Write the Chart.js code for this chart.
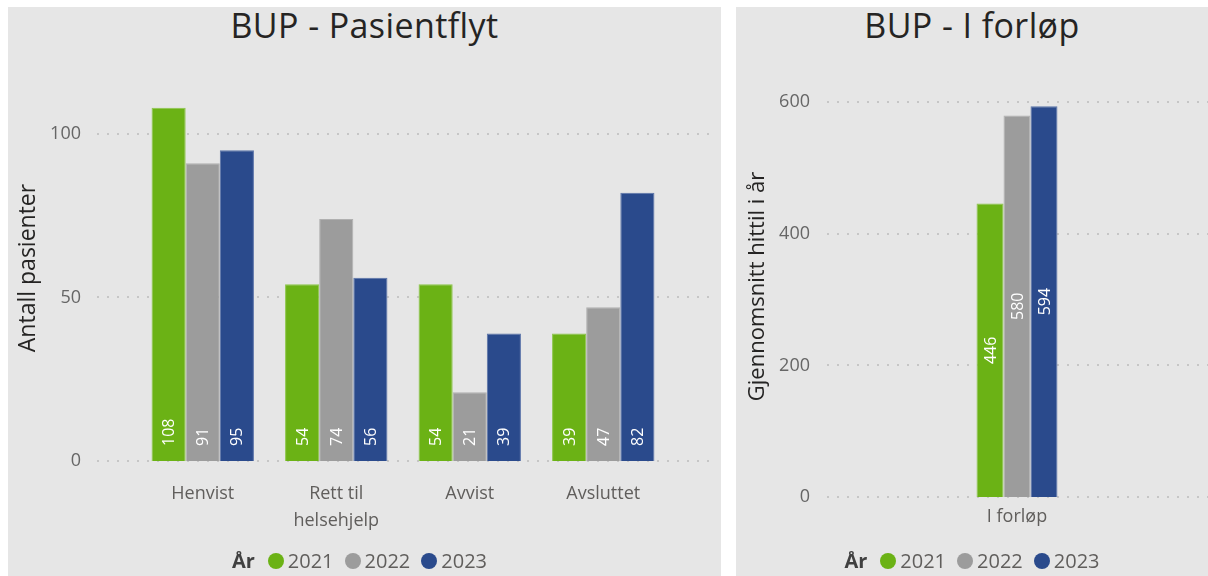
<!DOCTYPE html>
<html><head><meta charset="utf-8">
<script src="https://cdn.jsdelivr.net/npm/chart.js@4/dist/chart.umd.min.js"></script>
<style>
body{margin:0;background:#fff;width:1208px;height:576px;overflow:hidden;position:relative;font-family:'Open Sans',sans-serif}
.panel{position:absolute;top:7px;height:569px;background:#e6e6e6}
#p1{left:8px;width:713px}
#p2{left:736px;width:472px}
canvas{position:absolute;left:0;top:0}
.title{position:absolute;left:0;right:0;text-align:center;font-size:34px;line-height:40px;letter-spacing:0.4px;color:#252423;top:-2px;white-space:nowrap}
.legend{position:absolute;left:0;right:0;top:544px;height:20px;display:flex;justify-content:center;align-items:center;font-size:20px;line-height:20px;color:#605e5c;white-space:nowrap}
#l1{right:10px}
.legend b{color:#404040;margin-right:13px}
.legend .dot{width:16px;height:16px;border-radius:50%;margin-right:4px}
.legend .item{display:flex;align-items:center;margin-right:11px}
.legend .item:last-child{margin-right:0}
</style>
</head><body>
<div class="panel" id="p1">
  <div class="title" id="t1"></div>
  <canvas id="c1" width="713" height="569"></canvas>
  <div class="legend" id="l1"></div>
</div>
<div class="panel" id="p2">
  <div class="title" id="t2"></div>
  <canvas id="c2" width="472" height="569"></canvas>
  <div class="legend" id="l2"></div>
</div>
<script>
// ---- data ----
const flowTitle = 'BUP - Pasientflyt';
const flowCategories = ['Henvist', ['Rett til', 'helsehjelp'], 'Avvist', 'Avsluttet'];
const years = ['2021', '2022', '2023'];
const flow2021 = [108, 54, 54, 39];
const flow2022 = [91, 74, 21, 47];
const flow2023 = [95, 56, 39, 82];
const flowTicks = [0, 50, 100];
const flowAxisTitle = 'Antall pasienter';

const ongoingTitle = 'BUP - I forløp';
const ongoingCategories = ['I forløp'];
const ongoing2021 = [446];
const ongoing2022 = [580];
const ongoing2023 = [594];
const ongoingTicks = [0, 200, 400, 600];
const ongoingAxisTitle = 'Gjennomsnitt hittil i år';

const legendTitle = 'År';
const colors = ['#6bb215', '#9c9c9c', '#2a4a8c'];
const borders = ['#8cc64a', '#b0b0b0', '#5a73a8'];

// ---- plugins ----
const dotGrid = {
  id: 'dotGrid',
  beforeDatasetsDraw(chart, args, opts) {
    const y = chart.scales.y, ctx = chart.ctx;
    ctx.save();
    ctx.strokeStyle = '#c6c6c6';
    ctx.lineWidth = 2;
    ctx.setLineDash([2, 8]);
    y.ticks.forEach(t => {
      const py = Math.round(y.getPixelForValue(t.value));
      ctx.beginPath();
      ctx.moveTo(opts.x1, py);
      ctx.lineTo(opts.x2, py);
      ctx.stroke();
    });
    ctx.restore();
  }
};
const barLabels = {
  id: 'barLabels',
  afterDatasetsDraw(chart, args, opts) {
    const ctx = chart.ctx;
    ctx.save();
    ctx.fillStyle = '#ffffff';
    ctx.font = '16px "Open Sans"';
    ctx.textBaseline = 'middle';
    chart.data.datasets.forEach((ds, di) => {
      chart.getDatasetMeta(di).data.forEach((bar, i) => {
        const txt = String(ds.data[i]);
        ctx.save();
        if (opts.mode === 'base') {
          ctx.translate(bar.x, bar.base - 15);
          ctx.rotate(-Math.PI / 2);
          ctx.textAlign = 'left';
        } else {
          ctx.translate(bar.x, (bar.y + bar.base) / 2);
          ctx.rotate(-Math.PI / 2);
          ctx.textAlign = 'center';
        }
        ctx.fillText(txt, 0, 1);
        ctx.restore();
      });
    });
    ctx.restore();
  }
};

function makeDatasets(series) {
  return series.map((d, i) => ({
    label: years[i], data: d, backgroundColor: colors[i],
    borderColor: borders[i], borderWidth: 1, borderSkipped: 'bottom'
  }));
}

function makeChart(id, cfg) {
  return new Chart(document.getElementById(id), {
    type: 'bar',
    data: { labels: cfg.labels, datasets: makeDatasets(cfg.series) },
    plugins: [dotGrid, barLabels],
    options: {
      responsive: false, animation: false,
      layout: { padding: cfg.padding },
      datasets: { bar: { categoryPercentage: cfg.catPct, barPercentage: 1 } },
      plugins: {
        legend: { display: false }, tooltip: { enabled: false },
        dotGrid: { x1: cfg.gx1, x2: cfg.gx2 },
        barLabels: { mode: cfg.labelMode }
      },
      scales: {
        x: {
          grid: { display: false, drawTicks: false }, border: { display: false },
          ticks: { color: '#605e5c', font: { family: 'Open Sans', size: 18, lineHeight: '27px' },
                   padding: cfg.xPad, autoSkip: false, maxRotation: 0, minRotation: 0 },
          afterFit: s => { s.height = cfg.xH; }
        },
        y: {
          min: 0, max: cfg.max,
          grid: { display: false, drawTicks: false }, border: { display: false },
          ticks: { color: '#666666', font: { family: 'Open Sans', size: 18 }, padding: cfg.yPad },
          afterBuildTicks: s => { s.ticks = cfg.ticks.map(v => ({ value: v })); },
          afterFit: s => { s.width = cfg.yW; },
          title: { display: true, text: cfg.axisTitle, color: '#252423',
                   font: { family: 'Open Sans', size: cfg.titleSize }, padding: { top: cfg.titlePad, bottom: 0 } }
        }
      }
    }
  });
}

function makeLegend(id) {
  const el = document.getElementById(id);
  const b = document.createElement('b'); b.textContent = legendTitle; el.appendChild(b);
  years.forEach((y, i) => {
    const it = document.createElement('span'); it.className = 'item';
    const d = document.createElement('span'); d.className = 'dot'; d.style.background = colors[i];
    const t = document.createElement('span'); t.textContent = y;
    it.appendChild(d); it.appendChild(t); el.appendChild(it);
  });
}

document.getElementById('t1').textContent = flowTitle;
document.getElementById('t2').textContent = ongoingTitle;
makeLegend('l1'); makeLegend('l2');

makeChart('c1', {
  labels: flowCategories, series: [flow2021, flow2022, flow2023],
  padding: { top: 68, right: 51, bottom: 40, left: 0 },
  catPct: 0.767, gx1: 89, gx2: 703, labelMode: 'base',
  xPad: 19, xH: 75, max: 118, ticks: flowTicks, yPad: 55, yW: 128,
  axisTitle: flowAxisTitle, titleSize: 23, titlePad: 7
});
makeChart('c2', {
  labels: ongoingCategories, series: [ongoing2021, ongoing2022, ongoing2023],
  padding: { top: 69, right: 1, bottom: 39, left: 0 },
  catPct: 0.213, gx1: 91, gx2: 472, labelMode: 'center',
  xPad: 6, xH: 40, max: 640, ticks: ongoingTicks, yPad: 17, yW: 91,
  axisTitle: ongoingAxisTitle, titleSize: 22, titlePad: 9
});
</script>
</body></html>
